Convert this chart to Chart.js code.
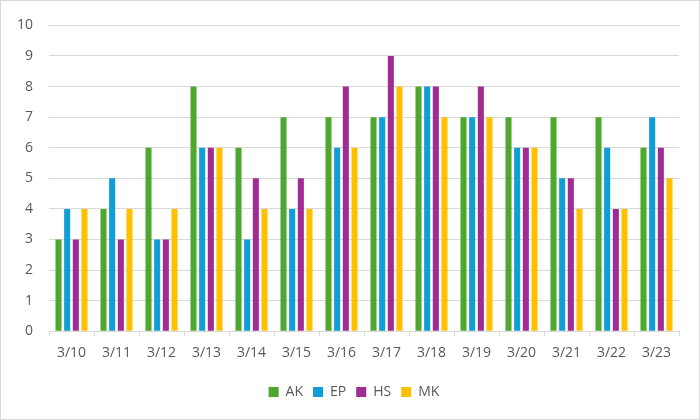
<!DOCTYPE html>
<html>
<head>
<meta charset="utf-8">
<script src="https://cdn.jsdelivr.net/npm/chart.js@4/dist/chart.umd.min.js"></script>
<style>
  body { margin: 0; background: #fff; }
  #wrap { width: 698px; height: 418px; border: 1px solid #d9d9d9; }
</style>
</head>
<body>
<div id="wrap"><canvas id="chart" width="698" height="418"></canvas></div>
<script>
// Data
const dates = ['3/10', '3/11', '3/12', '3/13', '3/14', '3/15', '3/16', '3/17', '3/18', '3/19', '3/20', '3/21', '3/22', '3/23'];
const akValues = [3, 4, 6, 8, 6, 7, 7, 7, 8, 7, 7, 7, 7, 6];
const epValues = [4, 5, 3, 6, 3, 4, 6, 7, 8, 7, 6, 5, 6, 7];
const hsValues = [3, 3, 3, 6, 5, 5, 8, 9, 8, 8, 6, 5, 4, 6];
const mkValues = [4, 4, 4, 6, 4, 4, 6, 8, 7, 7, 6, 4, 4, 5];

const textColor = '#595959';
const gridColor = '#d9d9d9';
Chart.defaults.font.family = '"Open Sans", "Noto Sans", sans-serif';
Chart.defaults.font.size = 14;
Chart.defaults.color = textColor;

function series(label, data, color) {
    return {
        label: label,
        data: data,
        backgroundColor: color,
        borderWidth: 0,
        categoryPercentage: 0.77,
        barPercentage: 0.7,
    };
}

const ctx = document.getElementById('chart').getContext('2d');
new Chart(ctx, {
    type: 'bar',
    data: {
        labels: dates,
        datasets: [
            series('AK', akValues, '#4ea72e'),
            series('EP', epValues, '#0f9ed5'),
            series('HS', hsValues, '#a02b93'),
            series('MK', mkValues, '#ffc000'),
        ],
    },
    options: {
        responsive: false,
        animation: false,
        layout: { padding: { top: 8, right: 6, left: 14, bottom: 10 } },
        plugins: {
            tooltip: { enabled: false },
            legend: {
                position: 'bottom',
                labels: {
                    boxWidth: 10,
                    boxHeight: 10,
                    padding: 10,
                    color: textColor,
                    font: { size: 14 },
                },
            },
        },
        scales: {
            x: {
                grid: {
                    drawOnChartArea: false,
                    drawTicks: true,
                    tickLength: 5,
                    color: gridColor,
                },
                border: { display: true, color: gridColor },
                ticks: { padding: 8, color: textColor },
                afterFit: (scale) => { scale.height += 6; },
            },
            y: {
                min: 0,
                max: 10,
                ticks: { stepSize: 1, padding: 16, color: textColor },
                grid: { color: gridColor, drawTicks: false },
                border: { display: false },
                afterFit: (scale) => { scale.width = 34; },
            },
            // empty right-hand spacer so the plot ends where the reference does
            spacer: {
                position: 'right',
                ticks: { display: false },
                grid: { display: false },
                border: { display: false },
                afterFit: (scale) => { scale.width = 14; },
            },
        },
    },
});
</script>
</body>
</html>
